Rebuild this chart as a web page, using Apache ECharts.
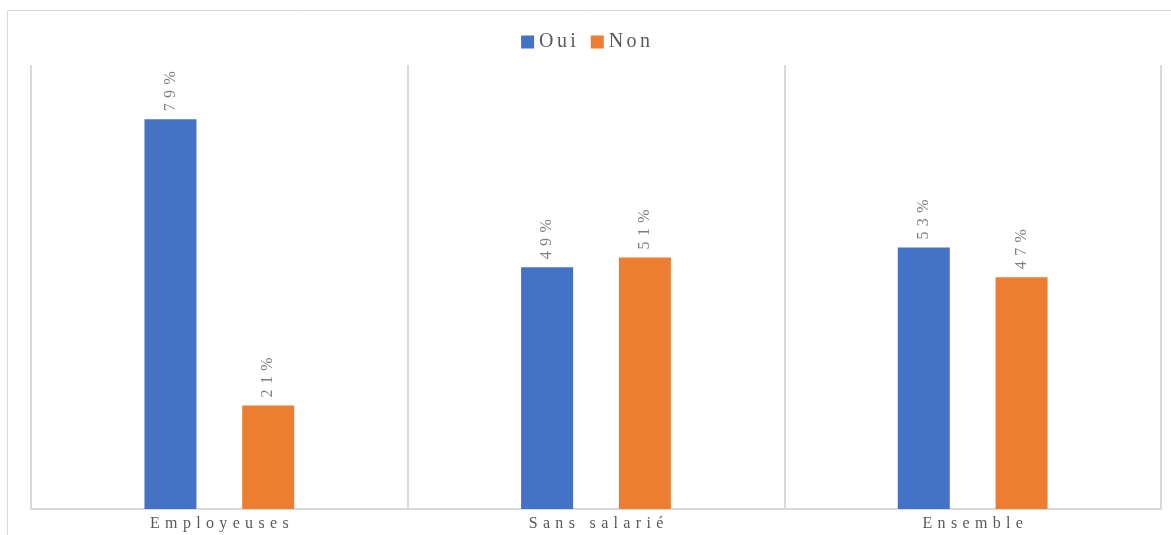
<!DOCTYPE html>
<html>
<head>
<meta charset="utf-8">
<script src="https://cdn.jsdelivr.net/npm/echarts@6/dist/echarts.min.js"></script>
<style>
  html, body { margin: 0; padding: 0; background: #fff; }
  #chart { width: 1171px; height: 535px; }
</style>
</head>
<body>
<div id="chart"></div>
<script>
const categories = ['Employeuses', 'Sans salarié', 'Ensemble'];
const seriesNames = ['Oui', 'Non'];
const ouiValues = [79, 49, 53];
const nonValues = [21, 51, 47];
const colors = ['#4472C4', '#ED7D31'];

// spread characters apart to mimic tracked lettering
const spaced = (s, sep) => Array.from(s).join(sep);

const labelStyle = {
  show: true,
  position: 'top',
  rotate: 90,
  align: 'left',
  verticalAlign: 'middle',
  distance: 8,
  fontFamily: 'Liberation Serif',
  fontSize: 16,
  color: '#7f7f7f',
  formatter: p => spaced(p.value + '%', '\u2004')
};

const chart = echarts.init(document.getElementById('chart'), null, { renderer: 'canvas' });
chart.setOption({
  animation: false,
  backgroundColor: '#fff',
  legend: {
    data: seriesNames,
    top: 27,
    left: 'center',
    itemWidth: 13,
    itemHeight: 13,
    itemGap: 15,
    icon: 'rect',
    formatter: n => spaced(n, '\u2006'),
    textStyle: { fontFamily: 'Liberation Serif', fontSize: 20, color: '#595959' }
  },
  grid: { left: 31, right: 10, top: 65, bottom: 26 },
  xAxis: {
    type: 'category',
    data: categories,
    axisTick: { show: false },
    axisLine: { lineStyle: { color: '#d9d9d9', width: 2 } },
    splitLine: { show: true, lineStyle: { color: '#d9d9d9', width: 2 } },
    axisLabel: {
      margin: 7,
      fontFamily: 'Liberation Serif',
      fontSize: 16,
      color: '#595959',
      formatter: v => spaced(v, '\u2004')
    }
  },
  yAxis: {
    type: 'value',
    min: 0,
    max: 90,
    show: false,
    splitLine: { show: false }
  },
  graphic: [{
    type: 'polyline',
    shape: { points: [[7.5, 535], [7.5, 10.5], [1171, 10.5]] },
    style: { stroke: '#d9d9d9', lineWidth: 1, fill: null },
    silent: true
  }],
  series: [
    { name: seriesNames[0], type: 'bar', data: ouiValues, barWidth: 52, barGap: '88%', itemStyle: { color: colors[0] }, label: labelStyle },
    { name: seriesNames[1], type: 'bar', data: nonValues, barWidth: 52, barGap: '88%', itemStyle: { color: colors[1] }, label: labelStyle }
  ]
});
</script>
</body>
</html>
